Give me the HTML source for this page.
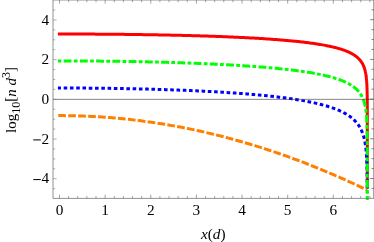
<!DOCTYPE html>
<html><head><meta charset="utf-8"><style>
html,body{margin:0;padding:0;background:#fff;}
svg{display:block;will-change:transform;}
text{font-family:"Liberation Serif",serif;font-size:15.3px;fill:#000;}
</style></head><body>
<svg width="374" height="242" viewBox="0 0 374 242">
<rect width="374" height="242" fill="#fff"/>
<g fill="none" stroke-width="3.0" stroke-linejoin="round">
<path d="M57.90,34.02 L59.30,34.02 L60.70,34.02 L62.10,34.02 L63.50,34.02 L64.90,34.02 L66.30,34.03 L67.70,34.03 L69.10,34.03 L70.50,34.03 L71.90,34.03 L73.30,34.04 L74.70,34.04 L76.10,34.04 L77.50,34.05 L78.90,34.05 L80.30,34.06 L81.70,34.06 L83.10,34.07 L84.50,34.07 L85.90,34.08 L87.30,34.09 L88.70,34.09 L90.10,34.10 L91.50,34.11 L92.90,34.11 L94.30,34.12 L95.71,34.13 L97.11,34.14 L98.51,34.15 L99.91,34.16 L101.31,34.17 L102.71,34.18 L104.11,34.19 L105.51,34.20 L106.91,34.21 L108.31,34.22 L109.71,34.23 L111.11,34.25 L112.51,34.26 L113.91,34.27 L115.31,34.28 L116.71,34.30 L118.11,34.31 L119.51,34.33 L120.91,34.34 L122.31,34.36 L123.71,34.37 L125.11,34.39 L126.51,34.40 L127.91,34.42 L129.31,34.44 L130.71,34.45 L132.11,34.47 L133.51,34.49 L134.91,34.51 L136.31,34.53 L137.71,34.55 L139.11,34.57 L140.51,34.59 L141.91,34.61 L143.31,34.63 L144.71,34.65 L146.11,34.67 L147.51,34.69 L148.91,34.72 L150.31,34.74 L151.71,34.76 L153.11,34.79 L154.51,34.81 L155.91,34.84 L157.31,34.86 L158.71,34.89 L160.11,34.91 L161.51,34.94 L162.91,34.97 L164.31,35.00 L165.71,35.02 L167.11,35.05 L168.51,35.08 L169.91,35.11 L171.32,35.14 L172.72,35.17 L174.12,35.20 L175.52,35.23 L176.92,35.27 L178.32,35.30 L179.72,35.33 L181.12,35.37 L182.52,35.40 L183.92,35.44 L185.32,35.47 L186.72,35.51 L188.12,35.54 L189.52,35.58 L190.92,35.62 L192.32,35.66 L193.72,35.70 L195.12,35.74 L196.52,35.78 L197.92,35.82 L199.32,35.86 L200.72,35.90 L202.12,35.94 L203.52,35.99 L204.92,36.03 L206.32,36.08 L207.72,36.12 L209.12,36.17 L210.52,36.22 L211.92,36.26 L213.32,36.31 L214.72,36.36 L216.12,36.41 L217.52,36.46 L218.92,36.51 L220.32,36.57 L221.72,36.62 L223.12,36.68 L224.52,36.73 L225.92,36.79 L227.32,36.84 L228.72,36.90 L230.12,36.96 L231.52,37.02 L232.92,37.08 L234.32,37.14 L235.72,37.21 L237.12,37.27 L238.52,37.33 L239.92,37.40 L241.32,37.47 L242.72,37.54 L244.12,37.60 L245.52,37.68 L246.93,37.75 L248.33,37.82 L249.73,37.89 L251.13,37.97 L252.53,38.05 L253.93,38.12 L255.33,38.20 L256.73,38.28 L258.13,38.37 L259.53,38.45 L260.93,38.54 L262.33,38.62 L263.73,38.71 L265.13,38.80 L266.53,38.89 L267.93,38.99 L269.33,39.08 L270.73,39.18 L272.13,39.28 L273.53,39.38 L274.93,39.48 L276.33,39.59 L277.73,39.70 L279.13,39.80 L280.53,39.92 L281.93,40.03 L283.33,40.15 L284.73,40.27 L286.13,40.39 L287.53,40.51 L288.93,40.64 L290.33,40.77 L291.73,40.90 L293.13,41.04 L294.53,41.17 L295.93,41.32 L297.33,41.46 L298.73,41.61 L300.13,41.76 L301.53,41.92 L302.93,42.08 L304.33,42.25 L305.73,42.42 L307.13,42.59 L308.53,42.77 L309.93,42.95 L311.33,43.14 L312.73,43.33 L314.13,43.54 L315.53,43.74 L316.93,43.95 L318.33,44.17 L319.73,44.40 L321.14,44.64 L322.54,44.88 L323.94,45.13 L325.34,45.39 L326.74,45.66 L328.14,45.94 L329.54,46.24 L330.94,46.54 L332.34,46.86 L333.74,47.19 L335.14,47.54 L336.54,47.90 L336.54,47.90 L337.05,48.04 L337.56,48.18 L338.06,48.32 L338.55,48.46 L339.03,48.60 L339.50,48.74 L339.97,48.88 L340.43,49.02 L340.88,49.16 L341.32,49.30 L341.76,49.44 L342.19,49.58 L342.61,49.72 L343.02,49.86 L343.43,50.00 L343.83,50.14 L344.22,50.28 L344.61,50.43 L344.99,50.57 L345.36,50.71 L345.73,50.85 L346.09,50.99 L346.45,51.13 L346.80,51.28 L347.14,51.42 L347.48,51.56 L347.81,51.70 L348.14,51.85 L348.46,51.99 L348.78,52.13 L349.09,52.28 L349.39,52.42 L349.69,52.56 L349.99,52.71 L350.28,52.85 L350.56,52.99 L350.85,53.14 L351.12,53.28 L351.39,53.42 L351.66,53.57 L351.92,53.71 L352.18,53.86 L352.43,54.00 L352.68,54.14 L352.93,54.29 L353.17,54.43 L353.41,54.58 L353.64,54.72 L353.87,54.87 L354.09,55.01 L354.32,55.16 L354.53,55.30 L354.75,55.45 L354.96,55.59 L355.17,55.74 L355.37,55.88 L355.57,56.03 L355.77,56.17 L355.96,56.32 L356.15,56.46 L356.34,56.61 L356.52,56.76 L356.70,56.90 L356.88,57.05 L357.06,57.19 L357.23,57.34 L357.40,57.49 L357.56,57.63 L357.73,57.78 L357.89,57.92 L358.04,58.07 L358.20,58.22 L358.35,58.36 L358.50,58.51 L358.65,58.66 L358.80,58.80 L358.94,58.95 L359.08,59.10 L359.22,59.24 L359.35,59.39 L359.49,59.54 L359.62,59.68 L359.75,59.83 L359.87,59.98 L360.00,60.12 L360.12,60.27 L360.24,60.42 L360.36,60.56 L360.48,60.71 L360.59,60.86 L360.70,61.01 L360.82,61.15 L360.92,61.30 L361.03,61.45 L361.14,61.60 L361.24,61.74 L361.34,61.89 L361.44,62.04 L361.54,62.19 L361.64,62.33 L361.73,62.48 L361.83,62.63 L361.92,62.78 L362.01,62.92 L362.10,63.07 L362.19,63.22 L362.27,63.37 L362.36,63.51 L362.44,63.66 L362.52,63.81 L362.60,63.96 L362.68,64.11 L362.76,64.25 L362.83,64.40 L362.91,64.55 L362.98,64.70 L363.06,64.85 L363.13,64.99 L363.20,65.14 L363.27,65.29 L363.33,65.44 L363.40,65.59 L363.47,65.73 L363.53,65.88 L363.59,66.03 L363.66,66.18 L363.72,66.33 L363.78,66.48 L363.84,66.62 L363.90,66.77 L363.95,66.92 L364.01,67.07 L364.07,67.22 L364.12,67.37 L364.17,67.51 L364.23,67.66 L364.28,67.81 L364.33,67.96 L364.38,68.11 L364.43,68.26 L364.48,68.41 L364.52,68.55 L364.57,68.70 L364.62,68.85 L364.66,69.00 L364.71,69.15 L364.75,69.30 L364.79,69.45 L364.84,69.59 L364.88,69.74 L364.92,69.89 L364.96,70.04 L365.00,70.19 L365.04,70.34 L365.08,70.49 L365.11,70.64 L365.15,70.78 L365.19,70.93 L365.22,71.08 L365.26,71.23 L365.29,71.38 L365.33,71.53 L365.36,71.68 L365.39,71.83 L365.42,71.98 L365.46,72.12 L365.49,72.27 L365.52,72.42 L365.55,72.57 L365.58,72.72 L365.61,72.87 L365.64,73.02 L365.66,73.17 L365.69,73.32 L365.72,73.46 L365.75,73.61 L365.77,73.76 L365.80,73.91 L365.82,74.06 L365.85,74.21 L365.87,74.36 L365.90,74.51 L365.92,74.66 L365.94,74.81 L365.97,74.96 L365.99,75.10 L366.01,75.25 L366.03,75.40 L366.06,75.55 L366.08,75.70 L366.10,75.85 L366.12,76.00 L366.14,76.15 L366.16,76.30 L366.18,76.45 L366.20,76.60 L366.22,76.74 L366.23,76.89 L366.25,77.04 L366.27,77.19 L366.29,77.34 L366.31,77.49 L366.32,77.64 L366.34,77.79 L366.36,77.94 L366.37,78.09 L366.39,78.24 L366.40,78.39 L366.42,78.54 L366.43,78.68 L366.45,78.83 L366.46,78.98 L366.48,79.13 L366.49,79.28 L366.51,79.43 L366.52,79.58 L366.53,79.73 L366.55,79.88 L366.56,80.03 L366.57,80.18 L366.58,80.33 L366.60,80.48 L366.61,80.63 L366.62,80.77 L366.63,80.92 L366.64,81.07 L366.65,81.22 L366.67,81.37 L366.68,81.52 L366.69,81.67 L366.70,81.82 L366.71,81.97 L366.72,82.12 L366.73,82.27 L366.74,82.42 L366.75,82.57 L366.76,82.72 L366.77,82.87 L366.78,83.01 L366.79,83.16 L366.79,83.31 L366.80,83.46 L366.81,83.61 L366.82,83.76 L366.83,83.91 L366.84,84.06 L366.85,84.21 L366.85,84.36 L366.86,84.51 L366.87,84.66 L366.88,84.81 L366.88,84.96 L366.89,85.11 L366.90,85.26 L366.90,85.41 L366.91,85.55 L366.92,85.70 L366.93,85.85 L366.93,86.00 L366.94,86.15 L366.94,86.30 L366.95,86.45 L366.96,86.60 L366.96,86.75 L366.97,86.90 L366.98,87.05 L366.98,87.20 L366.99,87.35 L366.99,87.50 L367.00,87.65 L367.00,87.80 L367.01,87.95 L367.01,88.10 L367.02,88.24 L367.02,88.39 L367.03,88.54 L367.03,88.69 L367.04,88.84 L367.04,88.99 L367.05,89.14 L367.05,89.29 L367.06,89.44 L367.06,89.59 L367.07,89.74 L367.07,89.89 L367.07,90.04 L367.08,90.19 L367.08,90.34 L367.09,90.49 L367.09,90.64 L367.09,90.79 L367.10,90.94 L367.10,91.08 L367.10,91.23 L367.11,91.38 L367.11,91.53 L367.12,91.68 L367.12,91.83 L367.12,91.98 L367.13,92.13 L367.13,92.28 L367.13,92.43 L367.13,92.58 L367.14,92.73 L367.14,92.88 L367.14,93.03 L367.15,93.18 L367.15,93.33 L367.15,93.48 L367.16,93.63 L367.16,93.78 L367.16,93.93 L367.16,94.07 L367.17,94.22 L367.17,94.37 L367.17,94.52 L367.17,94.67 L367.18,94.82 L367.18,94.97 L367.18,95.12 L367.18,95.27 L367.19,95.42 L367.19,95.57 L367.19,95.72 L367.19,95.87 L367.19,96.02 L367.20,96.17 L367.20,96.32 L367.20,96.47 L367.20,96.62 L367.20,96.77 L367.21,96.92 L367.21,97.07 L367.21,97.21 L367.21,97.36 L367.21,97.51 L367.22,97.66 L367.22,97.81 L367.22,97.96 L367.22,98.11 L367.22,98.26 L367.22,98.41 L367.23,98.56 L367.23,98.71 L367.23,98.86 L367.23,99.01 L367.23,99.16 L367.23,99.31 L367.23,99.46 L367.24,99.61 L367.24,99.76 L367.24,99.91 L367.24,100.06 L367.24,100.21 L367.24,100.35 L367.24,100.50 L367.25,100.65 L367.25,100.80 L367.25,100.95 L367.25,101.10 L367.25,101.25 L367.25,101.40 L367.25,101.55 L367.25,101.70 L367.25,101.85 L367.26,102.00 L367.26,102.15 L367.26,102.30 L367.26,102.45 L367.26,102.60 L367.26,102.75 L367.26,102.90 L367.26,103.05 L367.26,103.20 L367.26,103.35 L367.27,103.50 L367.27,103.64 L367.27,103.79 L367.27,103.94 L367.27,104.09 L367.27,104.24 L367.27,104.39 L367.27,104.54 L367.27,104.69 L367.27,104.84 L367.27,104.99 L367.27,105.14 L367.28,105.29 L367.28,105.44 L367.28,105.59 L367.28,105.74 L367.28,105.89 L367.28,106.04 L367.28,106.19 L367.28,106.34 L367.28,106.49 L367.28,106.64 L367.28,106.79 L367.28,106.93 L367.28,107.08 L367.28,107.23 L367.28,107.38 L367.29,107.53 L367.29,107.68 L367.29,107.83 L367.29,107.98 L367.29,108.13 L367.29,108.28 L367.29,108.43 L367.29,108.58 L367.29,108.73 L367.29,108.88 L367.29,109.03 L367.29,109.18 L367.29,109.33 L367.29,109.48 L367.29,109.63 L367.29,109.78 L367.29,109.93 L367.29,110.08 L367.29,110.23 L367.29,110.37 L367.29,110.52 L367.30,110.67 L367.30,110.82 L367.30,110.97 L367.30,111.12 L367.30,111.27 L367.30,111.42 L367.30,111.57 L367.30,111.72 L367.30,111.87 L367.30,112.02 L367.30,112.17 L367.30,112.32 L367.30,112.47 L367.30,112.62 L367.30,112.77 L367.30,112.92 L367.30,113.07 L367.30,113.22 L367.30,113.37 L367.30,113.52 L367.30,113.67 L367.30,113.81 L367.30,113.96 L367.30,114.11 L367.30,114.26 L367.30,114.41 L367.30,114.56 L367.30,114.71 L367.30,114.86 L367.30,115.01 L367.30,115.16 L367.30,115.31 L367.31,115.46 L367.31,115.61 L367.31,115.76 L367.31,115.91 L367.31,116.06 L367.31,116.21 L367.31,116.36 L367.31,116.51 L367.31,116.66 L367.31,116.81 L367.31,116.96 L367.31,117.11 L367.31,117.25 L367.31,117.40 L367.31,117.55 L367.31,117.70 L367.31,117.85 L367.31,118.00 L367.31,118.15 L367.31,118.30 L367.31,118.45 L367.31,118.60 L367.31,118.75 L367.31,118.90 L367.31,119.05 L367.31,119.20 L367.31,119.35 L367.31,119.50 L367.31,119.65 L367.31,119.80 L367.31,119.95 L367.31,120.10 L367.31,120.25 L367.31,120.40 L367.31,120.55 L367.31,120.69 L367.31,120.84 L367.31,120.99 L367.31,121.14 L367.31,121.29 L367.31,121.44 L367.31,121.59 L367.31,121.74 L367.31,121.89 L367.31,122.04 L367.31,122.19 L367.31,122.34 L367.31,122.49 L367.31,122.64 L367.31,122.79 L367.31,122.94 L367.31,123.09 L367.31,123.24 L367.31,123.39 L367.31,123.54 L367.31,123.69 L367.31,123.84 L367.31,123.99 L367.31,124.13 L367.31,124.28 L367.31,124.43 L367.31,124.58 L367.31,124.73 L367.31,124.88 L367.31,125.03 L367.31,125.18 L367.31,125.33 L367.31,125.48 L367.31,125.63 L367.31,125.78 L367.31,125.93 L367.31,126.08 L367.31,126.23 L367.31,126.38 L367.32,126.53 L367.32,126.68 L367.32,126.83 L367.32,126.98 L367.32,127.13 L367.32,127.28 L367.32,127.43 L367.32,127.57 L367.32,127.72 L367.32,127.87 L367.32,128.02 L367.32,128.17 L367.32,128.32 L367.32,128.47 L367.32,128.62 L367.32,128.77 L367.32,128.92 L367.32,129.07 L367.32,129.22 L367.32,129.37 L367.32,129.52 L367.32,129.67 L367.32,129.82 L367.32,129.97 L367.32,130.12 L367.32,130.27 L367.32,130.42 L367.32,130.57 L367.32,130.72 L367.32,130.87 L367.32,131.01 L367.32,131.16 L367.32,131.31 L367.32,131.46 L367.32,131.61 L367.32,131.76 L367.32,131.91 L367.32,132.06 L367.32,132.21 L367.32,132.36 L367.32,132.51 L367.32,132.66 L367.32,132.81 L367.32,132.96 L367.32,133.11 L367.32,133.26 L367.32,133.41 L367.32,133.56 L367.32,133.71 L367.32,133.86 L367.32,134.01 L367.32,134.16 L367.32,134.31 L367.32,134.45 L367.32,134.60 L367.32,134.75 L367.32,134.90 L367.32,135.05 L367.32,135.20 L367.32,135.35 L367.32,135.50 L367.32,135.65 L367.32,135.80 L367.32,135.95 L367.32,136.10 L367.32,136.25 L367.32,136.40 L367.32,136.55 L367.32,136.70 L367.32,136.85 L367.32,137.00 L367.32,137.15 L367.32,137.30 L367.32,137.45 L367.32,137.60 L367.32,137.75 L367.32,137.89 L367.32,138.04 L367.32,138.19 L367.32,138.34 L367.32,138.49 L367.32,138.64 L367.32,138.79 L367.32,138.94 L367.32,139.09 L367.32,139.24 L367.32,139.39 L367.32,139.54 L367.32,139.69 L367.32,139.84 L367.32,139.99 L367.32,140.14 L367.32,140.29 L367.32,140.44 L367.32,140.59 L367.32,140.74 L367.32,140.89 L367.32,141.04 L367.32,141.19 L367.32,141.33 L367.32,141.48 L367.32,141.63 L367.32,141.78 L367.32,141.93 L367.32,142.08 L367.32,142.23 L367.32,142.38 L367.32,142.53 L367.32,142.68 L367.32,142.83 L367.32,142.98 L367.32,143.13 L367.32,143.28 L367.32,143.43 L367.32,143.58 L367.32,143.73 L367.32,143.88 L367.32,144.03 L367.32,144.18 L367.32,144.33 L367.32,144.48 L367.32,144.63 L367.32,144.77 L367.32,144.92 L367.32,145.07 L367.32,145.22 L367.32,145.37 L367.32,145.52 L367.32,145.67 L367.32,145.82 L367.32,145.97 L367.32,146.12 L367.32,146.27 L367.32,146.42 L367.32,146.57 L367.32,146.72 L367.32,146.87 L367.32,147.02 L367.32,147.17 L367.32,147.32 L367.32,147.47 L367.32,147.62 L367.32,147.77 L367.32,147.92 L367.32,148.07 L367.32,148.21 L367.32,148.36 L367.32,148.51 L367.32,148.66 L367.32,148.81 L367.32,148.96 L367.32,149.11 L367.32,149.26 L367.32,149.41 L367.32,149.56 L367.32,149.71 L367.32,149.86 L367.32,150.01 L367.32,150.16 L367.32,150.31 L367.32,150.46 L367.32,150.61 L367.32,150.76 L367.32,150.91 L367.32,151.06 L367.32,151.21 L367.32,151.36 L367.32,151.51 L367.32,151.65 L367.32,151.80 L367.32,151.95 L367.32,152.10 L367.32,152.25 L367.32,152.40 L367.32,152.55 L367.32,152.70 L367.32,152.85 L367.32,153.00 L367.32,153.15 L367.32,153.30 L367.32,153.45 L367.32,153.60 L367.32,153.75 L367.32,153.90 L367.32,154.05 L367.32,154.20 L367.32,154.35 L367.32,154.50 L367.32,154.65 L367.32,154.80 L367.32,154.95 L367.32,155.09 L367.32,155.24 L367.32,155.39 L367.32,155.54 L367.32,155.69 L367.32,155.84 L367.32,155.99 L367.32,156.14 L367.32,156.29 L367.32,156.44 L367.32,156.59 L367.32,156.74 L367.32,156.89 L367.32,157.04 L367.32,157.19 L367.32,157.34 L367.32,157.49 L367.32,157.64 L367.32,157.79 L367.32,157.94 L367.32,158.09 L367.32,158.24 L367.32,158.39 L367.32,158.54 L367.32,158.68 L367.32,158.83 L367.32,158.98 L367.32,159.13 L367.32,159.28 L367.32,159.43 L367.32,159.58 L367.32,159.73 L367.32,159.88 L367.32,160.03 L367.32,160.18 L367.32,160.33 L367.32,160.48 L367.32,160.63 L367.32,160.78 L367.32,160.93 L367.32,161.08 L367.32,161.23 L367.32,161.38 L367.32,161.53 L367.32,161.68 L367.32,161.83 L367.32,161.98 L367.32,162.12 L367.32,162.27 L367.32,162.42 L367.32,162.57 L367.32,162.72 L367.32,162.87 L367.32,163.02 L367.32,163.17 L367.32,163.32 L367.32,163.47 L367.32,163.62 L367.32,163.77 L367.32,163.92 L367.32,164.07 L367.32,164.22 L367.32,164.37 L367.32,164.52 L367.32,164.67 L367.32,164.82 L367.32,164.97 L367.32,165.12 L367.32,165.27 L367.32,165.42 L367.32,165.56 L367.32,165.71 L367.32,165.86 L367.32,166.01 L367.32,166.16 L367.32,166.31 L367.32,166.46 L367.32,166.61 L367.32,166.76 L367.32,166.91 L367.32,167.06 L367.32,167.21 L367.32,167.36 L367.32,167.51 L367.32,167.66 L367.32,167.81 L367.32,167.96 L367.32,168.11 L367.32,168.26 L367.32,168.41 L367.32,168.56 L367.32,168.71 L367.32,168.86 L367.32,169.00 L367.32,169.15 L367.32,169.30 L367.32,169.45 L367.32,169.60 L367.32,169.75 L367.32,169.90 L367.32,170.05 L367.32,170.20 L367.32,170.35 L367.32,170.50 L367.32,170.65 L367.32,170.80 L367.32,170.95 L367.32,171.10 L367.32,171.25 L367.32,171.40 L367.32,171.55 L367.32,171.70 L367.32,171.85 L367.32,172.00 L367.32,172.15 L367.32,172.30 L367.32,172.44 L367.32,172.59 L367.32,172.74 L367.32,172.89 L367.32,173.04 L367.32,173.19 L367.32,173.34 L367.32,173.49 L367.32,173.64 L367.32,173.79 L367.32,173.94 L367.32,174.09 L367.32,174.24 L367.32,174.39 L367.32,174.54 L367.32,174.69 L367.32,174.84 L367.32,174.99 L367.32,175.14 L367.32,175.29 L367.32,175.44 L367.32,175.59 L367.32,175.74 L367.32,175.88 L367.32,176.03 L367.32,176.18 L367.32,176.33 L367.32,176.48 L367.32,176.63 L367.32,176.78 L367.32,176.93 L367.32,177.08 L367.32,177.23 L367.32,177.38 L367.32,177.53 L367.32,177.68 L367.32,177.83 L367.32,177.98 L367.32,178.13 L367.32,178.28 L367.32,178.43 L367.32,178.58 L367.32,178.73 L367.32,178.88 L367.32,179.03 L367.32,179.18 L367.32,179.32 L367.32,179.47 L367.32,179.62 L367.32,179.77 L367.32,179.92 L367.32,180.07 L367.32,180.22 L367.32,180.37 L367.32,180.52 L367.32,180.67 L367.32,180.82 L367.32,180.97 L367.32,181.12 L367.32,181.27 L367.32,181.42 L367.32,181.57 L367.32,181.72 L367.32,181.87 L367.32,182.02 L367.32,182.17 L367.32,182.32 L367.32,182.47 L367.32,182.62 L367.32,182.76 L367.32,182.91 L367.32,183.06 L367.32,183.21 L367.32,183.36 L367.32,183.51 L367.32,183.66 L367.32,183.81 L367.32,183.96 L367.32,184.11 L367.32,184.26 L367.32,184.41 L367.32,184.56 L367.32,184.71 L367.32,184.86 L367.32,185.01 L367.32,185.16 L367.32,185.31 L367.32,185.46 L367.32,185.61 L367.32,185.76 L367.32,185.91 L367.32,186.06 L367.32,186.21 L367.32,186.35 L367.32,186.50 L367.32,186.65 L367.32,186.80 L367.32,186.95 L367.32,187.10 L367.32,187.25 L367.32,187.40 L367.32,187.55 L367.32,187.70 L367.32,187.85 L367.32,188.00 L367.32,188.00" stroke="#ff0000"/>
<path d="M57.90,88.03 L59.30,88.03 L60.70,88.03 L62.10,88.03 L63.50,88.03 L64.90,88.03 L66.30,88.03 L67.70,88.04 L69.10,88.04 L70.50,88.04 L71.90,88.05 L73.30,88.05 L74.70,88.06 L76.10,88.06 L77.50,88.07 L78.90,88.08 L80.30,88.09 L81.70,88.09 L83.10,88.10 L84.50,88.11 L85.90,88.12 L87.30,88.13 L88.70,88.14 L90.10,88.15 L91.50,88.17 L92.90,88.18 L94.30,88.19 L95.71,88.21 L97.11,88.22 L98.51,88.23 L99.91,88.25 L101.31,88.26 L102.71,88.28 L104.11,88.30 L105.51,88.32 L106.91,88.33 L108.31,88.35 L109.71,88.37 L111.11,88.39 L112.51,88.41 L113.91,88.43 L115.31,88.45 L116.71,88.48 L118.11,88.50 L119.51,88.52 L120.91,88.55 L122.31,88.57 L123.71,88.59 L125.11,88.62 L126.51,88.65 L127.91,88.67 L129.31,88.70 L130.71,88.73 L132.11,88.76 L133.51,88.79 L134.91,88.82 L136.31,88.85 L137.71,88.88 L139.11,88.91 L140.51,88.94 L141.91,88.98 L143.31,89.01 L144.71,89.04 L146.11,89.08 L147.51,89.12 L148.91,89.15 L150.31,89.19 L151.71,89.23 L153.11,89.27 L154.51,89.30 L155.91,89.34 L157.31,89.39 L158.71,89.43 L160.11,89.47 L161.51,89.51 L162.91,89.56 L164.31,89.60 L165.71,89.64 L167.11,89.69 L168.51,89.74 L169.91,89.78 L171.32,89.83 L172.72,89.88 L174.12,89.93 L175.52,89.98 L176.92,90.03 L178.32,90.09 L179.72,90.14 L181.12,90.19 L182.52,90.25 L183.92,90.30 L185.32,90.36 L186.72,90.42 L188.12,90.48 L189.52,90.54 L190.92,90.60 L192.32,90.66 L193.72,90.72 L195.12,90.78 L196.52,90.85 L197.92,90.91 L199.32,90.98 L200.72,91.05 L202.12,91.11 L203.52,91.18 L204.92,91.25 L206.32,91.32 L207.72,91.40 L209.12,91.47 L210.52,91.55 L211.92,91.62 L213.32,91.70 L214.72,91.78 L216.12,91.86 L217.52,91.94 L218.92,92.02 L220.32,92.10 L221.72,92.19 L223.12,92.27 L224.52,92.36 L225.92,92.45 L227.32,92.54 L228.72,92.63 L230.12,92.72 L231.52,92.81 L232.92,92.91 L234.32,93.01 L235.72,93.11 L237.12,93.21 L238.52,93.31 L239.92,93.41 L241.32,93.52 L242.72,93.62 L244.12,93.73 L245.52,93.84 L246.93,93.95 L248.33,94.07 L249.73,94.18 L251.13,94.30 L252.53,94.42 L253.93,94.54 L255.33,94.67 L256.73,94.79 L258.13,94.92 L259.53,95.05 L260.93,95.18 L262.33,95.32 L263.73,95.46 L265.13,95.60 L266.53,95.74 L267.93,95.88 L269.33,96.03 L270.73,96.18 L272.13,96.33 L273.53,96.49 L274.93,96.65 L276.33,96.81 L277.73,96.98 L279.13,97.15 L280.53,97.32 L281.93,97.49 L283.33,97.67 L284.73,97.85 L286.13,98.04 L287.53,98.23 L288.93,98.43 L290.33,98.62 L291.73,98.83 L293.13,99.03 L294.53,99.25 L295.93,99.46 L297.33,99.69 L298.73,99.91 L300.13,100.15 L301.53,100.39 L302.93,100.63 L304.33,100.88 L305.73,101.14 L307.13,101.40 L308.53,101.67 L309.93,101.95 L311.33,102.24 L312.73,102.53 L314.13,102.84 L315.53,103.15 L316.93,103.47 L318.33,103.80 L319.73,104.15 L321.14,104.50 L322.54,104.87 L323.94,105.25 L325.34,105.64 L326.74,106.05 L328.14,106.47 L329.54,106.91 L330.94,107.37 L332.34,107.84 L333.74,108.34 L335.14,108.86 L336.54,109.41 L336.54,109.41 L337.05,109.61 L337.56,109.82 L338.06,110.03 L338.55,110.24 L339.03,110.44 L339.50,110.65 L339.97,110.86 L340.43,111.07 L340.88,111.28 L341.32,111.49 L341.76,111.70 L342.19,111.91 L342.61,112.12 L343.02,112.33 L343.43,112.54 L343.83,112.75 L344.22,112.96 L344.61,113.17 L344.99,113.38 L345.36,113.59 L345.73,113.80 L346.09,114.01 L346.45,114.22 L346.80,114.43 L347.14,114.65 L347.48,114.86 L347.81,115.07 L348.14,115.28 L348.46,115.49 L348.78,115.71 L349.09,115.92 L349.39,116.13 L349.69,116.34 L349.99,116.56 L350.28,116.77 L350.56,116.98 L350.85,117.19 L351.12,117.41 L351.39,117.62 L351.66,117.83 L351.92,118.05 L352.18,118.26 L352.43,118.47 L352.68,118.69 L352.93,118.90 L353.17,119.12 L353.41,119.33 L353.64,119.54 L353.87,119.76 L354.09,119.97 L354.32,120.19 L354.53,120.40 L354.75,120.62 L354.96,120.83 L355.17,121.05 L355.37,121.26 L355.57,121.48 L355.77,121.69 L355.96,121.91 L356.15,122.12 L356.34,122.34 L356.52,122.55 L356.70,122.77 L356.88,122.98 L357.06,123.20 L357.23,123.41 L357.40,123.63 L357.56,123.85 L357.73,124.06 L357.89,124.28 L358.04,124.49 L358.20,124.71 L358.35,124.93 L358.50,125.14 L358.65,125.36 L358.80,125.57 L358.94,125.79 L359.08,126.01 L359.22,126.22 L359.35,126.44 L359.49,126.66 L359.62,126.87 L359.75,127.09 L359.87,127.31 L360.00,127.52 L360.12,127.74 L360.24,127.96 L360.36,128.17 L360.48,128.39 L360.59,128.61 L360.70,128.82 L360.82,129.04 L360.92,129.26 L361.03,129.48 L361.14,129.69 L361.24,129.91 L361.34,130.13 L361.44,130.34 L361.54,130.56 L361.64,130.78 L361.73,131.00 L361.83,131.21 L361.92,131.43 L362.01,131.65 L362.10,131.87 L362.19,132.08 L362.27,132.30 L362.36,132.52 L362.44,132.74 L362.52,132.95 L362.60,133.17 L362.68,133.39 L362.76,133.61 L362.83,133.83 L362.91,134.04 L362.98,134.26 L363.06,134.48 L363.13,134.70 L363.20,134.92 L363.27,135.13 L363.33,135.35 L363.40,135.57 L363.47,135.79 L363.53,136.01 L363.59,136.22 L363.66,136.44 L363.72,136.66 L363.78,136.88 L363.84,137.10 L363.90,137.32 L363.95,137.53 L364.01,137.75 L364.07,137.97 L364.12,138.19 L364.17,138.41 L364.23,138.63 L364.28,138.84 L364.33,139.06 L364.38,139.28 L364.43,139.50 L364.48,139.72 L364.52,139.94 L364.57,140.15 L364.62,140.37 L364.66,140.59 L364.71,140.81 L364.75,141.03 L364.79,141.25 L364.84,141.47 L364.88,141.68 L364.92,141.90 L364.96,142.12 L365.00,142.34 L365.04,142.56 L365.08,142.78 L365.11,143.00 L365.15,143.22 L365.19,143.43 L365.22,143.65 L365.26,143.87 L365.29,144.09 L365.33,144.31 L365.36,144.53 L365.39,144.75 L365.42,144.97 L365.46,145.18 L365.49,145.40 L365.52,145.62 L365.55,145.84 L365.58,146.06 L365.61,146.28 L365.64,146.50 L365.66,146.72 L365.69,146.94 L365.72,147.15 L365.75,147.37 L365.77,147.59 L365.80,147.81 L365.82,148.03 L365.85,148.25 L365.87,148.47 L365.90,148.69 L365.92,148.91 L365.94,149.13 L365.97,149.35 L365.99,149.56 L366.01,149.78 L366.03,150.00 L366.06,150.22 L366.08,150.44 L366.10,150.66 L366.12,150.88 L366.14,151.10 L366.16,151.32 L366.18,151.54 L366.20,151.76 L366.22,151.97 L366.23,152.19 L366.25,152.41 L366.27,152.63 L366.29,152.85 L366.31,153.07 L366.32,153.29 L366.34,153.51 L366.36,153.73 L366.37,153.95 L366.39,154.17 L366.40,154.39 L366.42,154.61 L366.43,154.82 L366.45,155.04 L366.46,155.26 L366.48,155.48 L366.49,155.70 L366.51,155.92 L366.52,156.14 L366.53,156.36 L366.55,156.58 L366.56,156.80 L366.57,157.02 L366.58,157.24 L366.60,157.46 L366.61,157.67 L366.62,157.89 L366.63,158.11 L366.64,158.33 L366.65,158.55 L366.67,158.77 L366.68,158.99 L366.69,159.21 L366.70,159.43 L366.71,159.65 L366.72,159.87 L366.73,160.09 L366.74,160.31 L366.75,160.53 L366.76,160.75 L366.77,160.97 L366.78,161.18 L366.79,161.40 L366.79,161.62 L366.80,161.84 L366.81,162.06 L366.82,162.28 L366.83,162.50 L366.84,162.72 L366.85,162.94 L366.85,163.16 L366.86,163.38 L366.87,163.60 L366.88,163.82 L366.88,164.04 L366.89,164.26 L366.90,164.48 L366.90,164.70 L366.91,164.91 L366.92,165.13 L366.93,165.35 L366.93,165.57 L366.94,165.79 L366.94,166.01 L366.95,166.23 L366.96,166.45 L366.96,166.67 L366.97,166.89 L366.98,167.11 L366.98,167.33 L366.99,167.55 L366.99,167.77 L367.00,167.99 L367.00,168.21 L367.01,168.43 L367.01,168.65 L367.02,168.86 L367.02,169.08 L367.03,169.30 L367.03,169.52 L367.04,169.74 L367.04,169.96 L367.05,170.18 L367.05,170.40 L367.06,170.62 L367.06,170.84 L367.07,171.06 L367.07,171.28 L367.07,171.50 L367.08,171.72 L367.08,171.94 L367.09,172.16 L367.09,172.38 L367.09,172.60 L367.10,172.82 L367.10,173.03 L367.10,173.25 L367.11,173.47 L367.11,173.69 L367.12,173.91 L367.12,174.13 L367.12,174.35 L367.13,174.57 L367.13,174.79 L367.13,175.01 L367.13,175.23 L367.14,175.45 L367.14,175.67 L367.14,175.89 L367.15,176.11 L367.15,176.33 L367.15,176.55 L367.16,176.77 L367.16,176.99 L367.16,177.21 L367.16,177.43 L367.17,177.64 L367.17,177.86 L367.17,178.08 L367.17,178.30 L367.18,178.52 L367.18,178.74 L367.18,178.96 L367.18,179.18 L367.19,179.40 L367.19,179.62 L367.19,179.84 L367.19,180.06 L367.19,180.28 L367.20,180.50 L367.20,180.72 L367.20,180.94 L367.20,181.16 L367.20,181.38 L367.21,181.60 L367.21,181.82 L367.21,182.04 L367.21,182.26 L367.21,182.47 L367.22,182.69 L367.22,182.91 L367.22,183.13 L367.22,183.35 L367.22,183.57 L367.22,183.79 L367.23,184.01 L367.23,184.23 L367.23,184.45 L367.23,184.67 L367.23,184.89 L367.23,185.11 L367.23,185.33 L367.24,185.55 L367.24,185.77 L367.24,185.99 L367.24,186.21 L367.24,186.43 L367.24,186.65 L367.24,186.87 L367.25,187.09 L367.25,187.30 L367.25,187.52 L367.25,187.74 L367.25,187.96 L367.25,188.18 L367.25,188.40 L367.25,188.62 L367.25,188.84 L367.26,189.06 L367.26,189.28 L367.26,189.50 L367.26,189.72 L367.26,189.94 L367.26,190.16 L367.26,190.38 L367.26,190.60 L367.26,190.82 L367.26,191.04 L367.27,191.26 L367.27,191.48 L367.27,191.70 L367.27,191.92 L367.27,192.14 L367.27,192.35 L367.27,192.57 L367.27,192.79 L367.27,193.00" stroke="#0000ff" stroke-dasharray="3.6 2.67" stroke-dashoffset="0.5"/>
<path d="M57.90,115.60 L60.50,115.60 L63.10,115.61 L65.70,115.63 L68.30,115.66 L70.90,115.70 L73.49,115.75 L76.09,115.82 L78.69,115.89 L81.29,115.97 L83.89,116.07 L86.49,116.17 L89.09,116.29 L91.69,116.41 L94.29,116.55 L96.89,116.70 L99.49,116.86 L102.09,117.03 L104.68,117.21 L107.28,117.40 L109.88,117.60 L112.48,117.81 L115.08,118.03 L117.68,118.26 L120.28,118.51 L122.88,118.76 L125.48,119.03 L128.08,119.30 L130.68,119.59 L133.28,119.88 L135.87,120.19 L138.47,120.51 L141.07,120.84 L143.67,121.18 L146.27,121.53 L148.87,121.89 L151.47,122.26 L154.07,122.64 L156.67,123.03 L159.27,123.43 L161.87,123.85 L164.47,124.27 L167.06,124.71 L169.66,125.15 L172.26,125.61 L174.86,126.07 L177.46,126.55 L180.06,127.04 L182.66,127.54 L185.26,128.05 L187.86,128.57 L190.46,129.10 L193.06,129.64 L195.66,130.19 L198.25,130.75 L200.85,131.33 L203.45,131.91 L206.05,132.50 L208.65,133.11 L211.25,133.73 L213.85,134.35 L216.45,134.99 L219.05,135.64 L221.65,136.29 L224.25,136.96 L226.85,137.64 L229.44,138.33 L232.04,139.03 L234.64,139.74 L237.24,140.47 L239.84,141.20 L242.44,141.94 L245.04,142.70 L247.64,143.46 L250.24,144.24 L252.84,145.02 L255.44,145.82 L258.04,146.63 L260.63,147.44 L263.23,148.27 L265.83,149.11 L268.43,149.96 L271.03,150.82 L273.63,151.69 L276.23,152.57 L278.83,153.46 L281.43,154.37 L284.03,155.28 L286.63,156.20 L289.23,157.14 L291.82,158.08 L294.42,159.04 L297.02,160.01 L299.62,160.98 L302.22,161.97 L304.82,162.97 L307.42,163.98 L310.02,165.00 L312.62,166.03 L315.22,167.07 L317.82,168.12 L320.42,169.18 L323.01,170.26 L325.61,171.34 L328.21,172.44 L330.81,173.54 L333.41,174.66 L336.01,175.78 L338.61,176.92 L341.21,178.07 L343.81,179.22 L346.41,180.39 L349.01,181.57 L351.61,182.76 L354.20,183.96 L356.80,185.17 L359.40,186.40 L362.00,187.63 L364.60,188.87 L367.20,190.12" stroke="#ff8000" stroke-dasharray="7.7 2.265" stroke-dashoffset="-0.35"/>
<path d="M57.90,60.92 L59.30,60.92 L60.70,60.92 L62.10,60.93 L63.50,60.93 L64.90,60.93 L66.30,60.93 L67.70,60.93 L69.10,60.94 L70.50,60.94 L71.90,60.94 L73.30,60.95 L74.70,60.95 L76.10,60.96 L77.50,60.96 L78.90,60.97 L80.30,60.97 L81.70,60.98 L83.10,60.99 L84.50,61.00 L85.90,61.01 L87.30,61.01 L88.70,61.02 L90.10,61.03 L91.50,61.04 L92.90,61.05 L94.30,61.07 L95.71,61.08 L97.11,61.09 L98.51,61.10 L99.91,61.12 L101.31,61.13 L102.71,61.14 L104.11,61.16 L105.51,61.17 L106.91,61.19 L108.31,61.20 L109.71,61.22 L111.11,61.24 L112.51,61.26 L113.91,61.27 L115.31,61.29 L116.71,61.31 L118.11,61.33 L119.51,61.35 L120.91,61.37 L122.31,61.39 L123.71,61.41 L125.11,61.44 L126.51,61.46 L127.91,61.48 L129.31,61.51 L130.71,61.53 L132.11,61.55 L133.51,61.58 L134.91,61.61 L136.31,61.63 L137.71,61.66 L139.11,61.69 L140.51,61.71 L141.91,61.74 L143.31,61.77 L144.71,61.80 L146.11,61.83 L147.51,61.86 L148.91,61.89 L150.31,61.93 L151.71,61.96 L153.11,61.99 L154.51,62.02 L155.91,62.06 L157.31,62.09 L158.71,62.13 L160.11,62.17 L161.51,62.20 L162.91,62.24 L164.31,62.28 L165.71,62.32 L167.11,62.36 L168.51,62.40 L169.91,62.44 L171.32,62.48 L172.72,62.52 L174.12,62.56 L175.52,62.61 L176.92,62.65 L178.32,62.69 L179.72,62.74 L181.12,62.79 L182.52,62.83 L183.92,62.88 L185.32,62.93 L186.72,62.98 L188.12,63.03 L189.52,63.08 L190.92,63.13 L192.32,63.18 L193.72,63.23 L195.12,63.29 L196.52,63.34 L197.92,63.40 L199.32,63.46 L200.72,63.51 L202.12,63.57 L203.52,63.63 L204.92,63.69 L206.32,63.75 L207.72,63.81 L209.12,63.87 L210.52,63.94 L211.92,64.00 L213.32,64.07 L214.72,64.13 L216.12,64.20 L217.52,64.27 L218.92,64.34 L220.32,64.41 L221.72,64.48 L223.12,64.55 L224.52,64.63 L225.92,64.70 L227.32,64.78 L228.72,64.85 L230.12,64.93 L231.52,65.01 L232.92,65.09 L234.32,65.17 L235.72,65.26 L237.12,65.34 L238.52,65.43 L239.92,65.51 L241.32,65.60 L242.72,65.69 L244.12,65.78 L245.52,65.88 L246.93,65.97 L248.33,66.07 L249.73,66.16 L251.13,66.26 L252.53,66.36 L253.93,66.46 L255.33,66.57 L256.73,66.67 L258.13,66.78 L259.53,66.89 L260.93,67.00 L262.33,67.11 L263.73,67.23 L265.13,67.34 L266.53,67.46 L267.93,67.58 L269.33,67.71 L270.73,67.83 L272.13,67.96 L273.53,68.09 L274.93,68.22 L276.33,68.36 L277.73,68.50 L279.13,68.64 L280.53,68.78 L281.93,68.92 L283.33,69.07 L284.73,69.22 L286.13,69.38 L287.53,69.54 L288.93,69.70 L290.33,69.86 L291.73,70.03 L293.13,70.20 L294.53,70.38 L295.93,70.56 L297.33,70.74 L298.73,70.93 L300.13,71.12 L301.53,71.32 L302.93,71.52 L304.33,71.72 L305.73,71.94 L307.13,72.15 L308.53,72.38 L309.93,72.60 L311.33,72.84 L312.73,73.08 L314.13,73.33 L315.53,73.59 L316.93,73.85 L318.33,74.12 L319.73,74.40 L321.14,74.69 L322.54,74.99 L323.94,75.30 L325.34,75.62 L326.74,75.95 L328.14,76.30 L329.54,76.65 L330.94,77.03 L332.34,77.41 L333.74,77.82 L335.14,78.24 L336.54,78.68 L336.54,78.68 L337.05,78.85 L337.56,79.02 L338.06,79.19 L338.55,79.35 L339.03,79.52 L339.50,79.69 L339.97,79.86 L340.43,80.03 L340.88,80.20 L341.32,80.37 L341.76,80.54 L342.19,80.71 L342.61,80.88 L343.02,81.05 L343.43,81.22 L343.83,81.39 L344.22,81.56 L344.61,81.73 L344.99,81.90 L345.36,82.07 L345.73,82.24 L346.09,82.41 L346.45,82.58 L346.80,82.75 L347.14,82.92 L347.48,83.09 L347.81,83.26 L348.14,83.43 L348.46,83.60 L348.78,83.77 L349.09,83.95 L349.39,84.12 L349.69,84.29 L349.99,84.46 L350.28,84.63 L350.56,84.80 L350.85,84.97 L351.12,85.15 L351.39,85.32 L351.66,85.49 L351.92,85.66 L352.18,85.83 L352.43,86.01 L352.68,86.18 L352.93,86.35 L353.17,86.52 L353.41,86.69 L353.64,86.87 L353.87,87.04 L354.09,87.21 L354.32,87.38 L354.53,87.56 L354.75,87.73 L354.96,87.90 L355.17,88.07 L355.37,88.25 L355.57,88.42 L355.77,88.59 L355.96,88.76 L356.15,88.94 L356.34,89.11 L356.52,89.28 L356.70,89.46 L356.88,89.63 L357.06,89.80 L357.23,89.98 L357.40,90.15 L357.56,90.32 L357.73,90.50 L357.89,90.67 L358.04,90.84 L358.20,91.02 L358.35,91.19 L358.50,91.36 L358.65,91.54 L358.80,91.71 L358.94,91.88 L359.08,92.06 L359.22,92.23 L359.35,92.40 L359.49,92.58 L359.62,92.75 L359.75,92.92 L359.87,93.10 L360.00,93.27 L360.12,93.45 L360.24,93.62 L360.36,93.79 L360.48,93.97 L360.59,94.14 L360.70,94.31 L360.82,94.49 L360.92,94.66 L361.03,94.84 L361.14,95.01 L361.24,95.18 L361.34,95.36 L361.44,95.53 L361.54,95.71 L361.64,95.88 L361.73,96.06 L361.83,96.23 L361.92,96.40 L362.01,96.58 L362.10,96.75 L362.19,96.93 L362.27,97.10 L362.36,97.27 L362.44,97.45 L362.52,97.62 L362.60,97.80 L362.68,97.97 L362.76,98.15 L362.83,98.32 L362.91,98.50 L362.98,98.67 L363.06,98.84 L363.13,99.02 L363.20,99.19 L363.27,99.37 L363.33,99.54 L363.40,99.72 L363.47,99.89 L363.53,100.07 L363.59,100.24 L363.66,100.41 L363.72,100.59 L363.78,100.76 L363.84,100.94 L363.90,101.11 L363.95,101.29 L364.01,101.46 L364.07,101.64 L364.12,101.81 L364.17,101.99 L364.23,102.16 L364.28,102.34 L364.33,102.51 L364.38,102.69 L364.43,102.86 L364.48,103.04 L364.52,103.21 L364.57,103.38 L364.62,103.56 L364.66,103.73 L364.71,103.91 L364.75,104.08 L364.79,104.26 L364.84,104.43 L364.88,104.61 L364.92,104.78 L364.96,104.96 L365.00,105.13 L365.04,105.31 L365.08,105.48 L365.11,105.66 L365.15,105.83 L365.19,106.01 L365.22,106.18 L365.26,106.36 L365.29,106.53 L365.33,106.71 L365.36,106.88 L365.39,107.06 L365.42,107.23 L365.46,107.41 L365.49,107.58 L365.52,107.76 L365.55,107.93 L365.58,108.11 L365.61,108.28 L365.64,108.46 L365.66,108.63 L365.69,108.81 L365.72,108.98 L365.75,109.16 L365.77,109.33 L365.80,109.51 L365.82,109.68 L365.85,109.86 L365.87,110.03 L365.90,110.21 L365.92,110.38 L365.94,110.56 L365.97,110.73 L365.99,110.91 L366.01,111.08 L366.03,111.26 L366.06,111.43 L366.08,111.61 L366.10,111.78 L366.12,111.96 L366.14,112.13 L366.16,112.31 L366.18,112.48 L366.20,112.66 L366.22,112.83 L366.23,113.01 L366.25,113.18 L366.27,113.36 L366.29,113.53 L366.31,113.71 L366.32,113.89 L366.34,114.06 L366.36,114.24 L366.37,114.41 L366.39,114.59 L366.40,114.76 L366.42,114.94 L366.43,115.11 L366.45,115.29 L366.46,115.46 L366.48,115.64 L366.49,115.81 L366.51,115.99 L366.52,116.16 L366.53,116.34 L366.55,116.51 L366.56,116.69 L366.57,116.86 L366.58,117.04 L366.60,117.21 L366.61,117.39 L366.62,117.56 L366.63,117.74 L366.64,117.91 L366.65,118.09 L366.67,118.27 L366.68,118.44 L366.69,118.62 L366.70,118.79 L366.71,118.97 L366.72,119.14 L366.73,119.32 L366.74,119.49 L366.75,119.67 L366.76,119.84 L366.77,120.02 L366.78,120.19 L366.79,120.37 L366.79,120.54 L366.80,120.72 L366.81,120.89 L366.82,121.07 L366.83,121.24 L366.84,121.42 L366.85,121.60 L366.85,121.77 L366.86,121.95 L366.87,122.12 L366.88,122.30 L366.88,122.47 L366.89,122.65 L366.90,122.82 L366.90,123.00 L366.91,123.17 L366.92,123.35 L366.93,123.52 L366.93,123.70 L366.94,123.87 L366.94,124.05 L366.95,124.22 L366.96,124.40 L366.96,124.58 L366.97,124.75 L366.98,124.93 L366.98,125.10 L366.99,125.28 L366.99,125.45 L367.00,125.63 L367.00,125.80 L367.01,125.98 L367.01,126.15 L367.02,126.33 L367.02,126.50 L367.03,126.68 L367.03,126.85 L367.04,127.03 L367.04,127.20 L367.05,127.38 L367.05,127.56 L367.06,127.73 L367.06,127.91 L367.07,128.08 L367.07,128.26 L367.07,128.43 L367.08,128.61 L367.08,128.78 L367.09,128.96 L367.09,129.13 L367.09,129.31 L367.10,129.48 L367.10,129.66 L367.10,129.83 L367.11,130.01 L367.11,130.19 L367.12,130.36 L367.12,130.54 L367.12,130.71 L367.13,130.89 L367.13,131.06 L367.13,131.24 L367.13,131.41 L367.14,131.59 L367.14,131.76 L367.14,131.94 L367.15,132.11 L367.15,132.29 L367.15,132.46 L367.16,132.64 L367.16,132.82 L367.16,132.99 L367.16,133.17 L367.17,133.34 L367.17,133.52 L367.17,133.69 L367.17,133.87 L367.18,134.04 L367.18,134.22 L367.18,134.39 L367.18,134.57 L367.19,134.74 L367.19,134.92 L367.19,135.09 L367.19,135.27 L367.19,135.45 L367.20,135.62 L367.20,135.80 L367.20,135.97 L367.20,136.15 L367.20,136.32 L367.21,136.50 L367.21,136.67 L367.21,136.85 L367.21,137.02 L367.21,137.20 L367.22,137.37 L367.22,137.55 L367.22,137.73 L367.22,137.90 L367.22,138.08 L367.22,138.25 L367.23,138.43 L367.23,138.60 L367.23,138.78 L367.23,138.95 L367.23,139.13 L367.23,139.30 L367.23,139.48 L367.24,139.65 L367.24,139.83 L367.24,140.00 L367.24,140.18 L367.24,140.36 L367.24,140.53 L367.24,140.71 L367.25,140.88 L367.25,141.06 L367.25,141.23 L367.25,141.41 L367.25,141.58 L367.25,141.76 L367.25,141.93 L367.25,142.11 L367.25,142.28 L367.26,142.46 L367.26,142.64 L367.26,142.81 L367.26,142.99 L367.26,143.16 L367.26,143.34 L367.26,143.51 L367.26,143.69 L367.26,143.86 L367.26,144.04 L367.27,144.21 L367.27,144.39 L367.27,144.56 L367.27,144.74 L367.27,144.92 L367.27,145.09 L367.27,145.27 L367.27,145.44 L367.27,145.62 L367.27,145.79 L367.27,145.97 L367.27,146.14 L367.28,146.32 L367.28,146.49 L367.28,146.67 L367.28,146.84 L367.28,147.02 L367.28,147.19 L367.28,147.37 L367.28,147.55 L367.28,147.72 L367.28,147.90 L367.28,148.07 L367.28,148.25 L367.28,148.42 L367.28,148.60 L367.28,148.77 L367.29,148.95 L367.29,149.12 L367.29,149.30 L367.29,149.47 L367.29,149.65 L367.29,149.83 L367.29,150.00 L367.29,150.18 L367.29,150.35 L367.29,150.53 L367.29,150.70 L367.29,150.88 L367.29,151.05 L367.29,151.23 L367.29,151.40 L367.29,151.58 L367.29,151.75 L367.29,151.93 L367.29,152.11 L367.29,152.28 L367.29,152.46 L367.30,152.63 L367.30,152.81 L367.30,152.98 L367.30,153.16 L367.30,153.33 L367.30,153.51 L367.30,153.68 L367.30,153.86 L367.30,154.03 L367.30,154.21 L367.30,154.39 L367.30,154.56 L367.30,154.74 L367.30,154.91 L367.30,155.09 L367.30,155.26 L367.30,155.44 L367.30,155.61 L367.30,155.79 L367.30,155.96 L367.30,156.14 L367.30,156.31 L367.30,156.49 L367.30,156.67 L367.30,156.84 L367.30,157.02 L367.30,157.19 L367.30,157.37 L367.30,157.54 L367.30,157.72 L367.30,157.89 L367.30,158.07 L367.31,158.24 L367.31,158.42 L367.31,158.59 L367.31,158.77 L367.31,158.95 L367.31,159.12 L367.31,159.30 L367.31,159.47 L367.31,159.65 L367.31,159.82 L367.31,160.00 L367.31,160.17 L367.31,160.35 L367.31,160.52 L367.31,160.70 L367.31,160.87 L367.31,161.05 L367.31,161.22 L367.31,161.40 L367.31,161.58 L367.31,161.75 L367.31,161.93 L367.31,162.10 L367.31,162.28 L367.31,162.45 L367.31,162.63 L367.31,162.80 L367.31,162.98 L367.31,163.15 L367.31,163.33 L367.31,163.50 L367.31,163.68 L367.31,163.86 L367.31,164.03 L367.31,164.21 L367.31,164.38 L367.31,164.56 L367.31,164.73 L367.31,164.91 L367.31,165.08 L367.31,165.26 L367.31,165.43 L367.31,165.61 L367.31,165.78 L367.31,165.96 L367.31,166.14 L367.31,166.31 L367.31,166.49 L367.31,166.66 L367.31,166.84 L367.31,167.01 L367.31,167.19 L367.31,167.36 L367.31,167.54 L367.31,167.71 L367.31,167.89 L367.31,168.06 L367.31,168.24 L367.31,168.42 L367.31,168.59 L367.31,168.77 L367.31,168.94 L367.31,169.12 L367.31,169.29 L367.31,169.47 L367.31,169.64 L367.31,169.82 L367.31,169.99 L367.31,170.17 L367.31,170.34 L367.31,170.52 L367.31,170.70 L367.31,170.87 L367.31,171.05 L367.32,171.22 L367.32,171.40 L367.32,171.57 L367.32,171.75 L367.32,171.92 L367.32,172.10 L367.32,172.27 L367.32,172.45 L367.32,172.62 L367.32,172.80 L367.32,172.98 L367.32,173.15 L367.32,173.33 L367.32,173.50 L367.32,173.68 L367.32,173.85 L367.32,174.03 L367.32,174.20 L367.32,174.38 L367.32,174.55 L367.32,174.73 L367.32,174.90 L367.32,175.08 L367.32,175.26 L367.32,175.43 L367.32,175.61 L367.32,175.78 L367.32,175.96 L367.32,176.13 L367.32,176.31 L367.32,176.48 L367.32,176.66 L367.32,176.83 L367.32,177.01 L367.32,177.18 L367.32,177.36 L367.32,177.54 L367.32,177.71 L367.32,177.89 L367.32,178.06 L367.32,178.24 L367.32,178.41 L367.32,178.59 L367.32,178.76 L367.32,178.94 L367.32,179.11 L367.32,179.29 L367.32,179.46 L367.32,179.64 L367.32,179.81 L367.32,179.99 L367.32,180.17 L367.32,180.34 L367.32,180.52 L367.32,180.69 L367.32,180.87 L367.32,181.04 L367.32,181.22 L367.32,181.39 L367.32,181.57 L367.32,181.74 L367.32,181.92 L367.32,182.09 L367.32,182.27 L367.32,182.45 L367.32,182.62 L367.32,182.80 L367.32,182.97 L367.32,183.15 L367.32,183.32 L367.32,183.50 L367.32,183.67 L367.32,183.85 L367.32,184.02 L367.32,184.20 L367.32,184.37 L367.32,184.55 L367.32,184.73 L367.32,184.90 L367.32,185.08 L367.32,185.25 L367.32,185.43 L367.32,185.60 L367.32,185.78 L367.32,185.95 L367.32,186.13 L367.32,186.30 L367.32,186.48 L367.32,186.65 L367.32,186.83 L367.32,187.01 L367.32,187.18 L367.32,187.36 L367.32,187.53 L367.32,187.71 L367.32,187.88 L367.32,188.06 L367.32,188.23 L367.32,188.41 L367.32,188.58 L367.32,188.76 L367.32,188.93 L367.32,189.11 L367.32,189.29 L367.32,189.46 L367.32,189.64 L367.32,189.81 L367.32,189.99 L367.32,190.16 L367.32,190.34 L367.32,190.51 L367.32,190.69 L367.32,190.86 L367.32,191.04 L367.32,191.21 L367.32,191.39 L367.32,191.57 L367.32,191.74 L367.32,191.92 L367.32,192.09 L367.32,192.27 L367.32,192.44 L367.32,192.62 L367.32,192.79 L367.32,192.97 L367.32,193.14 L367.32,193.32 L367.32,193.49 L367.32,193.67 L367.32,193.85 L367.32,194.02 L367.32,194.20 L367.32,194.37 L367.32,194.55 L367.32,194.72 L367.32,194.90 L367.32,195.07 L367.32,195.25 L367.32,195.42 L367.32,195.60 L367.32,195.77 L367.32,195.95 L367.32,196.13 L367.32,196.30 L367.32,196.48 L367.32,196.65 L367.32,196.83 L367.32,197.00 L367.32,197.18 L367.32,197.35 L367.32,197.53 L367.32,197.70 L367.32,197.88 L367.32,198.05 L367.32,198.23 L367.32,198.41 L367.32,198.58 L367.32,198.76 L367.32,198.93 L367.32,199.11 L367.32,199.28 L367.32,199.46 L367.32,199.63 L367.32,199.81 L367.32,199.98 L367.32,200.00" stroke="#00ff00" stroke-dasharray="3.7 2.35 7.85 2.35" stroke-dashoffset="0.3"/>
</g>
<path d="M53.0,99.35 H373.75" stroke="#333" stroke-width="0.6" fill="none"/>
<rect x="53.0" y="0.0" width="320.75" height="198.3" fill="none" stroke="#777" stroke-width="0.8"/>
<path d="M59.50,198.3 v-3.6 M59.50,0.0 v3.6 M68.63,198.3 v-2.2 M68.63,0.0 v2.2 M77.76,198.3 v-2.2 M77.76,0.0 v2.2 M86.88,198.3 v-2.2 M86.88,0.0 v2.2 M96.01,198.3 v-2.2 M96.01,0.0 v2.2 M105.14,198.3 v-3.6 M105.14,0.0 v3.6 M114.27,198.3 v-2.2 M114.27,0.0 v2.2 M123.40,198.3 v-2.2 M123.40,0.0 v2.2 M132.52,198.3 v-2.2 M132.52,0.0 v2.2 M141.65,198.3 v-2.2 M141.65,0.0 v2.2 M150.78,198.3 v-3.6 M150.78,0.0 v3.6 M159.91,198.3 v-2.2 M159.91,0.0 v2.2 M169.04,198.3 v-2.2 M169.04,0.0 v2.2 M178.16,198.3 v-2.2 M178.16,0.0 v2.2 M187.29,198.3 v-2.2 M187.29,0.0 v2.2 M196.42,198.3 v-3.6 M196.42,0.0 v3.6 M205.55,198.3 v-2.2 M205.55,0.0 v2.2 M214.68,198.3 v-2.2 M214.68,0.0 v2.2 M223.80,198.3 v-2.2 M223.80,0.0 v2.2 M232.93,198.3 v-2.2 M232.93,0.0 v2.2 M242.06,198.3 v-3.6 M242.06,0.0 v3.6 M251.19,198.3 v-2.2 M251.19,0.0 v2.2 M260.32,198.3 v-2.2 M260.32,0.0 v2.2 M269.44,198.3 v-2.2 M269.44,0.0 v2.2 M278.57,198.3 v-2.2 M278.57,0.0 v2.2 M287.70,198.3 v-3.6 M287.70,0.0 v3.6 M296.83,198.3 v-2.2 M296.83,0.0 v2.2 M305.96,198.3 v-2.2 M305.96,0.0 v2.2 M315.08,198.3 v-2.2 M315.08,0.0 v2.2 M324.21,198.3 v-2.2 M324.21,0.0 v2.2 M333.34,198.3 v-3.6 M333.34,0.0 v3.6 M342.47,198.3 v-2.2 M342.47,0.0 v2.2 M351.60,198.3 v-2.2 M351.60,0.0 v2.2 M360.72,198.3 v-2.2 M360.72,0.0 v2.2 M369.85,198.3 v-2.2 M369.85,0.0 v2.2" stroke="#606060" stroke-width="0.58" fill="none"/>
<path d="M53.0,188.68 h2.2 M53.0,178.75 h3.6 M53.0,168.82 h2.2 M53.0,158.90 h2.2 M53.0,148.97 h2.2 M53.0,139.05 h3.6 M53.0,129.12 h2.2 M53.0,119.20 h2.2 M53.0,109.27 h2.2 M53.0,99.35 h3.6 M53.0,89.42 h2.2 M53.0,79.50 h2.2 M53.0,69.57 h2.2 M53.0,59.65 h3.6 M53.0,49.72 h2.2 M53.0,39.80 h2.2 M53.0,29.87 h2.2 M53.0,19.95 h3.6 M53.0,10.02 h2.2" stroke="#777" stroke-width="0.6" fill="none"/>
<path d="M373.75,188.43 h-2.2 M373.75,178.50 h-3.6 M373.75,168.57 h-2.2 M373.75,158.65 h-2.2 M373.75,148.72 h-2.2 M373.75,138.80 h-3.6 M373.75,128.88 h-2.2 M373.75,118.95 h-2.2 M373.75,109.02 h-2.2 M373.75,99.10 h-3.6 M373.75,89.17 h-2.2 M373.75,79.25 h-2.2 M373.75,69.32 h-2.2 M373.75,59.40 h-3.6 M373.75,49.47 h-2.2 M373.75,39.55 h-2.2 M373.75,29.62 h-2.2 M373.75,19.70 h-3.6 M373.75,9.77 h-2.2" stroke="#555" stroke-width="0.75" fill="none"/>
<text x="59.50" y="215.1" text-anchor="middle">0</text><text x="105.14" y="215.1" text-anchor="middle">1</text><text x="150.78" y="215.1" text-anchor="middle">2</text><text x="196.42" y="215.1" text-anchor="middle">3</text><text x="242.06" y="215.1" text-anchor="middle">4</text><text x="287.70" y="215.1" text-anchor="middle">5</text><text x="333.34" y="215.1" text-anchor="middle">6</text><text x="49.2" y="183.35" text-anchor="end">4</text><path d="M33.3,179.60 H40.8" stroke="#000" stroke-width="1.0" fill="none"/><text x="49.2" y="143.65" text-anchor="end">2</text><path d="M33.3,139.90 H40.8" stroke="#000" stroke-width="1.0" fill="none"/><text x="49.2" y="103.95" text-anchor="end">0</text><text x="49.2" y="64.25" text-anchor="end">2</text><text x="49.2" y="24.55" text-anchor="end">4</text>
<text x="213.3" y="239" text-anchor="middle"><tspan font-style="italic">x</tspan>(<tspan font-style="italic">d</tspan>)</text>
<text transform="translate(15.9,100.0) rotate(-90)" text-anchor="middle" style="font-size:14.95px">log<tspan font-size="12.2" dy="4.5">10</tspan><tspan dy="-5.5">[</tspan><tspan font-style="italic" dy="1">n d</tspan><tspan font-size="12" dy="-6.3">3</tspan><tspan dy="5.3">]</tspan></text>
</svg>
</body></html>
